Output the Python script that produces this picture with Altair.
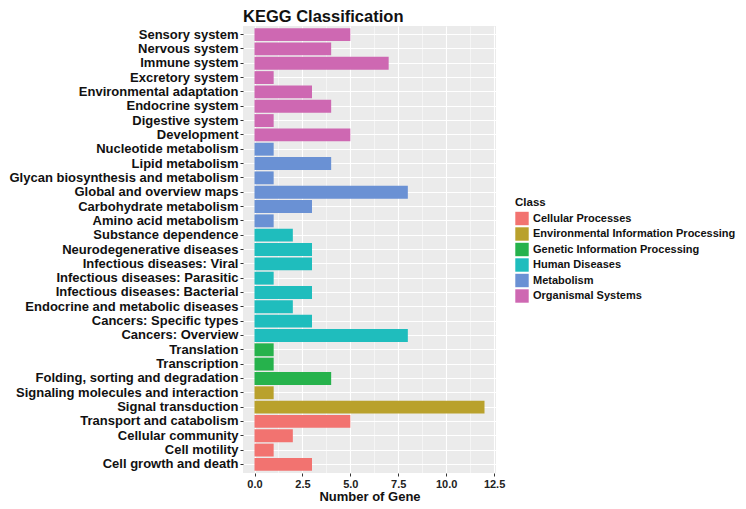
import altair as alt
import pandas as pd

categories = [
    "Sensory system", "Nervous system", "Immune system", "Excretory system",
    "Environmental adaptation", "Endocrine system", "Digestive system", "Development",
    "Nucleotide metabolism", "Lipid metabolism", "Glycan biosynthesis and metabolism",
    "Global and overview maps", "Carbohydrate metabolism", "Amino acid metabolism",
    "Substance dependence", "Neurodegenerative diseases", "Infectious diseases: Viral",
    "Infectious diseases: Parasitic", "Infectious diseases: Bacterial",
    "Endocrine and metabolic diseases", "Cancers: Specific types", "Cancers: Overview",
    "Translation", "Transcription", "Folding, sorting and degradation",
    "Signaling molecules and interaction", "Signal transduction",
    "Transport and catabolism", "Cellular community", "Cell motility", "Cell growth and death",
]
values = [5, 4, 7, 1, 3, 4, 1, 5,
          1, 4, 1, 8, 3, 1,
          2, 3, 3, 1, 3, 2, 3, 8,
          1, 1, 4,
          1, 12,
          5, 2, 1, 3]
classes = (["Organismal Systems"] * 8 + ["Metabolism"] * 6 + ["Human Diseases"] * 8
           + ["Genetic Information Processing"] * 3
           + ["Environmental Information Processing"] * 2 + ["Cellular Processes"] * 4)
class_order = ["Cellular Processes", "Environmental Information Processing",
               "Genetic Information Processing", "Human Diseases", "Metabolism",
               "Organismal Systems"]
class_colors = ["#F27370", "#B9A12C", "#26B24C", "#1FBDBD", "#6A91D4", "#CE68B2"]
x_tick_values = [0, 1.25, 2.5, 3.75, 5, 6.25, 7.5, 8.75, 10, 11.25, 12.5]

df = pd.DataFrame({"Pathway": categories, "Genes": values, "Class": classes})

FONT = "Liberation Sans"

chart = alt.Chart(df).mark_bar().encode(
    x=alt.X("Genes:Q",
            scale=alt.Scale(domain=[-0.6, 12.6], nice=False, zero=False),
            axis=alt.Axis(
                title="Number of Gene",
                values=x_tick_values,
                labelExpr="datum.value % 2.5 === 0 ? format(datum.value, '.1f') : ''",
                grid=True,
                gridColor="white",
                gridWidth={"condition": {"test": "datum.value % 2.5 === 0", "value": 1.1}, "value": 0.5},
                tickColor={"condition": {"test": "datum.value % 2.5 !== 0", "value": "transparent"}, "value": "#333333"},
                tickSize=3, labelPadding=2, labelFontSize=11, labelFont=FONT,
                labelFontWeight="bold", labelColor="#222222",
                titleFont=FONT, titleFontSize=13, titleFontWeight="bold",
                titleColor="#111111", titlePadding=1, domain=False,
            )),
    y=alt.Y("Pathway:N", sort=categories,
            scale=alt.Scale(paddingInner=0.1, paddingOuter=0.15),
            axis=alt.Axis(
                title=None, grid=True, gridColor="white", gridWidth=1.1,
                bandPosition=0.5, tickBand="center",
                tickSize=3, tickColor="#333333", labelPadding=2,
                labelFontSize=13, labelFont=FONT, labelFontWeight="bold",
                labelColor="#111111", domain=False, labelLimit=400,
            )),
    color=alt.Color("Class:N",
                    scale=alt.Scale(domain=class_order, range=class_colors),
                    legend=alt.Legend(
                        title="Class", orient="none", legendX=272, legendY=171,
                        symbolType="square", symbolSize=180, symbolStrokeWidth=0,
                        symbolOpacity=1, rowPadding=1.5,
                        titleFont=FONT, titleFontSize=11.5, titleFontWeight="bold",
                        titleColor="#111111", titlePadding=3,
                        labelFont=FONT, labelFontSize=11, labelFontWeight="bold",
                        labelColor="#111111", labelLimit=300,
                    )),
).properties(
    width=253, height=447,
    title=alt.Title("KEGG Classification", anchor="start", frame="group",
                    font=FONT, fontSize=16.5, fontWeight="bold", color="#111111",
                    offset=1),
    padding={"left": 0, "top": 0, "right": 0, "bottom": 0},
).configure_view(fill="#EBEBEB", strokeWidth=0)

chart.save("out.html", embed_options={"renderer": "svg", "actions": False})
